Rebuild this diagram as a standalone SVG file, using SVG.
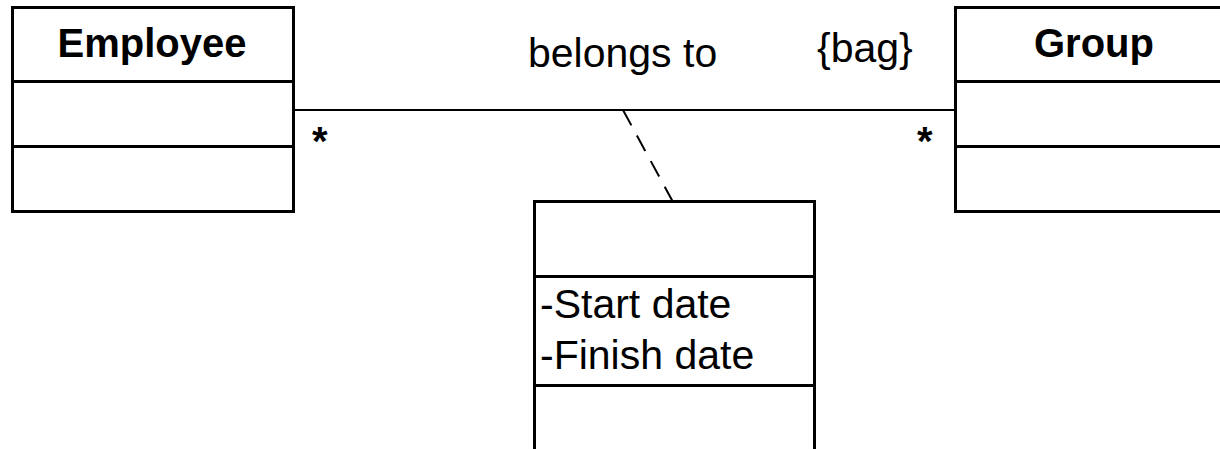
<svg xmlns="http://www.w3.org/2000/svg" width="1220" height="449" viewBox="0 0 1220 449">
  <style>
    .box { fill: #fff; stroke: #000; stroke-width: 3; }
    .div { stroke: #000; stroke-width: 3; }
    .title { font-family: "Liberation Sans", Arial, sans-serif; font-weight: bold; font-size: 40px; text-anchor: middle; fill: #000; }
    .lbl { font-family: "Liberation Sans", Arial, sans-serif; font-size: 41px; fill: #000; }
    .mult { font-family: "Liberation Sans", Arial, sans-serif; font-weight: bold; font-size: 40px; fill: #000; }
    .assoc { stroke: #000; stroke-width: 2; fill: none; }
    .dash { stroke: #000; stroke-width: 2; fill: none; stroke-dasharray: 17.5 11.6; }
  </style>

  <!-- association line, link to the association class, and end labels -->
  <g id="connectors">
    <line class="assoc" x1="293" y1="110" x2="955" y2="110"/>
    <line class="dash" x1="623" y1="110" x2="673" y2="202"/>
    <text class="lbl" x="528" y="67">belongs to</text>
    <text class="lbl" x="817" y="62">{bag}</text>
    <text class="mult" x="312" y="155">*</text>
    <text class="mult" x="917" y="155">*</text>
  </g>

  <g id="employee">
    <rect class="box" x="12.5" y="7.5" width="281" height="204"/>
    <line class="div" x1="12.5" y1="81.5" x2="293.5" y2="81.5"/>
    <line class="div" x1="12.5" y1="146.5" x2="293.5" y2="146.5"/>
    <text class="title" x="152" y="57">Employee</text>
  </g>

  <g id="group">
    <rect class="box" x="955.5" y="7.5" width="280" height="204"/>
    <line class="div" x1="955.5" y1="81.5" x2="1235" y2="81.5"/>
    <line class="div" x1="955.5" y1="146.5" x2="1235" y2="146.5"/>
    <text class="title" x="1094" y="57">Group</text>
  </g>

  <g id="membership">
    <rect class="box" x="534.5" y="201.5" width="280" height="260"/>
    <line class="div" x1="534.5" y1="276.5" x2="814.5" y2="276.5"/>
    <line class="div" x1="534.5" y1="385.5" x2="814.5" y2="385.5"/>
    <text class="lbl" x="540" y="318">-Start date</text>
    <text class="lbl" x="540" y="369">-Finish date</text>
  </g>
</svg>
